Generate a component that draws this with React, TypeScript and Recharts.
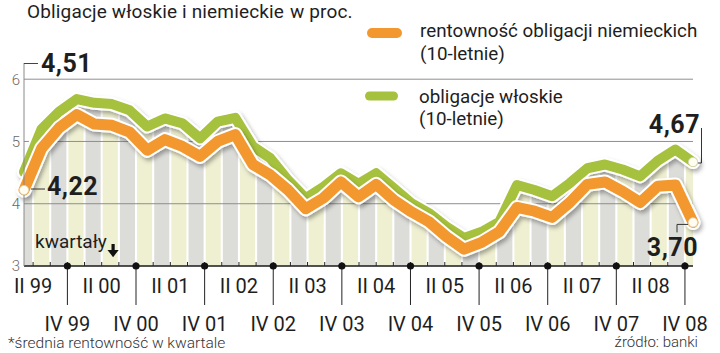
import React from 'react';
import { ComposedChart, Line, Area, XAxis, YAxis, ReferenceArea, ReferenceLine } from 'recharts';

// ---------- data ----------
const YEARS = ['99', '00', '01', '02', '03', '04', '05', '06', '07', '08'];
const QUARTER_NAMES = ['I', 'II', 'III', 'IV'];
// all quarters shown on the axis (stripes + ticks)
const QUARTERS = YEARS.flatMap((y) => QUARTER_NAMES.map((q) => `${q} ${y}`));
// plotted periods (II 99 ... IV 08)
const PERIODS = QUARTERS.slice(1);

// 10-year German bund yield (quarterly average, %)
const GERMANY = [
  4.22, 4.89, 5.22, 5.43, 5.28, 5.26, 5.15, 4.86, 5.03, 4.92, 4.76, 5.0, 5.11,
  4.63, 4.46, 4.22, 3.92, 4.09, 4.35, 4.11, 4.31, 4.06, 3.87, 3.71, 3.47, 3.27,
  3.38, 3.55, 3.94, 3.88, 3.78, 4.02, 4.31, 4.35, 4.2, 4.02, 4.28, 4.3, 3.7,
];
// 10-year Italian bond yield (quarterly average, %)
const ITALY = [
  4.51, 5.2, 5.48, 5.68, 5.62, 5.6, 5.5, 5.24, 5.37, 5.29, 5.05, 5.32, 5.38,
  4.92, 4.73, 4.38, 4.09, 4.27, 4.49, 4.32, 4.49, 4.25, 4.01, 3.85, 3.63, 3.45,
  3.55, 3.71, 4.3, 4.22, 4.12, 4.33, 4.57, 4.63, 4.55, 4.44, 4.69, 4.87, 4.67,
];

const Y_TICKS = [3, 4, 5, 6];
const GRID_VALUES = [4, 5, 6];
const Y_DOMAIN: [number, number] = [3, 6.26];
// x axis in quarter units: k = start of QUARTERS[k]
const Q_DOMAIN: [number, number] = [0.47, 39.47];
const QUARTER_TICKS = QUARTERS.map((_, k) => k).filter((k) => k >= 1);

const TITLE = 'Obligacje włoskie i niemieckie';
const UNIT = 'w proc.';
const LEGEND_DE = ['rentowność obligacji niemieckich', '(10-letnie)'];
const LEGEND_IT = ['obligacje włoskie', '(10-letnie)'];
const NOTE = '*średnia rentowność w kwartale';
const SOURCE = 'źródło: banki';
const AXIS_NOTE = 'kwartały';

// ---------- style ----------
const ORANGE = '#f2982f';
const GREEN = '#a6c13d';
const STRIPE_GRAY = '#dcdcd9';
const STRIPE_YELLOW = '#eff0d2';
const FONT = 'Roboto, "Noto Sans", sans-serif';
const INK = '#1e1e1e';

// the 39 points are spread evenly over the 39-quarter-wide plot
const lastIdx = PERIODS.length - 1;
const data = PERIODS.map((period, i) => ({
  x: Q_DOMAIN[0] + ((Q_DOMAIN[1] - Q_DOMAIN[0]) * i) / lastIdx,
  period,
  de: GERMANY[i],
  it: ITALY[i],
}));
const fmt = (v: number) => v.toFixed(2).replace('.', ',');

const bigText = { fontFamily: FONT, fontWeight: 700, fontSize: 25, fill: INK, letterSpacing: 0.5 } as const;

const QuarterTick = (props: any) => {
  const { x, y, payload } = props;
  const name: string = QUARTERS[payload.value] || '';
  const isII = name.startsWith('II ');
  const isIV = name.startsWith('IV ');
  return (
    <g>
      <line x1={x} y1={y - 4} x2={x} y2={y} stroke="#222" strokeWidth={1} />
      {isII && (
        <text x={x} y={y + 27} textAnchor="middle" fontFamily={FONT} fontSize={20} fill={INK}>
          {name}
        </text>
      )}
      {isIV && (
        <g>
          <line x1={x} y1={y} x2={x} y2={y + 39} stroke="#222" strokeWidth={1} />
          <circle cx={x} cy={y} r={3.6} fill="#111" />
          <text x={x} y={y + 65} textAnchor="middle" fontFamily={FONT} fontSize={20} fill={INK}>
            {name}
          </text>
        </g>
      )}
    </g>
  );
};

const endDot = (cx: number, cy: number) => (
  <circle cx={cx} cy={cy} r={4.6} fill="#fffcf0" stroke="#d9d4bf" strokeWidth={0.8} />
);

const germanyDot = (props: any) => {
  const { cx, cy, index, payload } = props;
  const key = `de-${index}`;
  if (index === 0) {
    return (
      <g key={key}>
        {endDot(cx, cy)}
        <line x1={cx + 7} y1={cy - 1} x2={cx + 21} y2={cy - 1} stroke="#333" strokeWidth={1} />
        <text x={cx + 23} y={cy + 5} style={bigText}>
          {fmt(payload.de)}
        </text>
      </g>
    );
  }
  if (index === lastIdx) {
    return (
      <g key={key}>
        {endDot(cx, cy)}
        <polyline
          points={`${cx - 5},${cy + 2} ${cx - 16},${cy + 2} ${cx - 16},${cy + 10}`}
          fill="none"
          stroke="#333"
          strokeWidth={1}
        />
        <text x={cx + 5} y={cy + 34} textAnchor="end" style={bigText}>
          {fmt(payload.de)}
        </text>
      </g>
    );
  }
  return <g key={key} />;
};

const italyDot = (props: any) => {
  const { cx, cy, index, payload } = props;
  const key = `it-${index}`;
  if (index === lastIdx) {
    return (
      <g key={key}>
        {endDot(cx, cy)}
        <polyline
          points={`${cx + 5},${cy + 1} ${cx + 8.5},${cy + 1} ${cx + 8.5},${cy - 34}`}
          fill="none"
          stroke="#333"
          strokeWidth={1}
        />
        <text x={cx + 7} y={cy - 29} textAnchor="end" style={bigText}>
          {fmt(payload.it)}
        </text>
      </g>
    );
  }
  return <g key={key} />;
};

export default function App() {
  return (
    <div style={{ position: 'absolute', left: 0, top: 0, width: 720, height: 353, background: '#fff', overflow: 'hidden' }}>
      <ComposedChart width={720} height={353} data={data} margin={{ top: 63, right: 27, bottom: 0, left: 0 }}>
        <XAxis
          dataKey="x"
          type="number"
          domain={Q_DOMAIN}
          ticks={QUARTER_TICKS}
          interval={0}
          tick={<QuarterTick />}
          tickLine={false}
          tickSize={0}
          tickMargin={0}
          axisLine={{ stroke: '#1a1a1a', strokeWidth: 1.6 }}
          height={87}
        />
        <YAxis
          domain={Y_DOMAIN}
          ticks={Y_TICKS}
          width={24}
          tickLine={false}
          tickSize={0}
          tickMargin={4}
          axisLine={{ stroke: '#8a8a8a', strokeWidth: 1 }}
          tick={{ fontFamily: FONT, fontSize: 15, fontWeight: 300, fill: '#6a6a6a' }}
        />
        {QUARTERS.map((q, k) => (
          <ReferenceArea
            key={q}
            x1={k + 0.06}
            x2={k + 0.94}
            y1={Y_DOMAIN[0]}
            y2={Y_DOMAIN[1]}
            fill={k % 2 === 0 ? STRIPE_GRAY : STRIPE_YELLOW}
            fillOpacity={1}
            stroke="none"
            ifOverflow="hidden"
          />
        ))}
        <Area
          dataKey="it"
          baseValue={Y_DOMAIN[1]}
          fill="#ffffff"
          fillOpacity={1}
          stroke="none"
          isAnimationActive={false}
        />
        {GRID_VALUES.map((v) => (
          <ReferenceLine key={v} y={v} stroke="#8f8f8f" strokeWidth={1} />
        ))}
        <Line
          dataKey="it"
          stroke="#ffffff"
          strokeWidth={14}
          strokeLinecap="round"
          strokeLinejoin="round"
          filter="url(#lineShadow)"
          dot={false}
          isAnimationActive={false}
        />
        <Line
          dataKey="it"
          stroke={GREEN}
          strokeWidth={10}
          strokeLinecap="round"
          strokeLinejoin="round"
          dot={italyDot}
          activeDot={false}
          isAnimationActive={false}
        />
        <Line
          dataKey="de"
          stroke="#ffffff"
          strokeWidth={15}
          strokeLinecap="round"
          strokeLinejoin="round"
          filter="url(#lineShadow)"
          dot={false}
          isAnimationActive={false}
        />
        <Line
          dataKey="de"
          stroke={ORANGE}
          strokeWidth={11}
          strokeLinecap="round"
          strokeLinejoin="round"
          dot={germanyDot}
          activeDot={false}
          isAnimationActive={false}
        />
      </ComposedChart>
      <svg
        width={720}
        height={353}
        style={{ position: 'absolute', left: 0, top: 0, pointerEvents: 'none' }}
      >
        <defs>
          <filter id="lineShadow" x="-10%" y="-30%" width="120%" height="160%">
            <feDropShadow dx="2" dy="3" stdDeviation="2" floodColor="#000" floodOpacity="0.32" />
          </filter>
        </defs>
        <text x={27} y={18} fontFamily={FONT} fontSize={19} letterSpacing={0.15} fill={INK}>
          {TITLE}
        </text>
        <text x={290} y={18} fontFamily={FONT} fontSize={19} letterSpacing={0.15} fill={INK}>
          {UNIT}
        </text>

        <rect x={367} y={28} width={35} height={10} rx={5} fill={ORANGE} />
        <text x={420} y={37} fontFamily={FONT} fontSize={18.8} fill={INK}>
          {LEGEND_DE[0]}
        </text>
        <text x={420} y={60} fontFamily={FONT} fontSize={18.8} fill={INK}>
          {LEGEND_DE[1]}
        </text>
        <rect x={365} y={91.5} width={33} height={9} rx={4.5} fill={GREEN} />
        <text x={419} y={103} fontFamily={FONT} fontSize={18.8} fill={INK}>
          {LEGEND_IT[0]}
        </text>
        <text x={419} y={125} fontFamily={FONT} fontSize={18.8} fill={INK}>
          {LEGEND_IT[1]}
        </text>

        <line x1={24} y1={63.5} x2={38} y2={63.5} stroke="#444" strokeWidth={1} />
        <text x={41} y={72} style={bigText}>
          {fmt(ITALY[0])}
        </text>

        <text x={35} y={248} fontFamily={FONT} fontSize={19} fill={INK}>
          {AXIS_NOTE}
        </text>
        <path d="M111.5,244 h3.2 v6 h4 l-5.6,7.2 l-5.6,-7.2 h4 z" fill="#111" />

        <text x={8} y={348} fontFamily={FONT} fontSize={15.5} fontWeight={300} fill="#333">
          {NOTE}
        </text>
        <text x={698} y={347} textAnchor="end" fontFamily={FONT} fontSize={15} fontWeight={300} fill="#333">
          {SOURCE}
        </text>
      </svg>
    </div>
  );
}
